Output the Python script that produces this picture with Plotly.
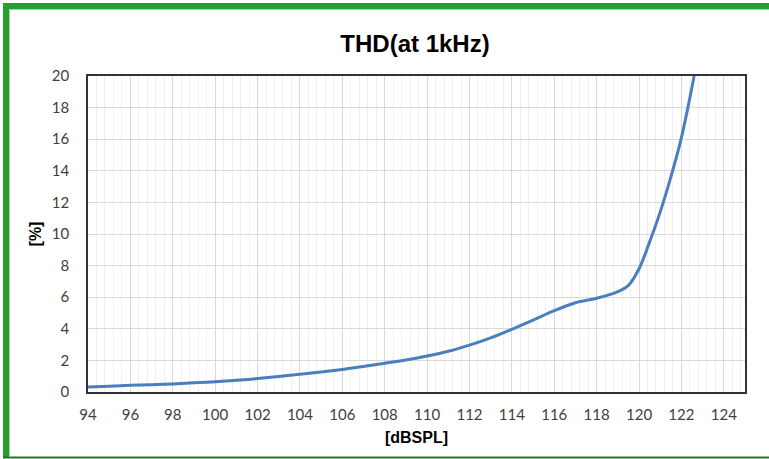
import plotly.graph_objects as go

# THD vs sound pressure level
spl_db = [94, 95, 96, 97, 98, 99, 100, 101, 102, 103, 104, 105, 106, 107, 108,
          109, 110, 111, 112, 113, 114, 115, 116, 117, 118, 119, 119.5, 120,
          120.5, 121, 121.5, 122, 122.6]
thd_pct = [0.32, 0.37, 0.42, 0.46, 0.51, 0.58, 0.65, 0.74, 0.85, 0.98, 1.12,
           1.27, 1.43, 1.61, 1.82, 2.03, 2.28, 2.58, 2.97, 3.43, 3.97, 4.55,
           5.15, 5.65, 5.93, 6.35, 6.75, 7.8, 9.5, 11.4, 13.6, 16.1, 20.0]

W, H = 769, 459
L, R, T, B = 88, 24, 76, 67
PW, PH = W - L - R, H - T - B


def px_x(x):
    # pixel -> paper x
    return (x - L) / PW


def px_y(y):
    # pixel -> paper y
    return 1 - (y - T) / PH


fig = go.Figure()
fig.add_trace(go.Scatter(
    x=spl_db, y=thd_pct,
    mode='lines',
    line=dict(color='#4A7EBF', width=3, shape='spline', smoothing=1),
    hoverinfo='x+y',
    showlegend=False,
))

axis_font = dict(family='Lato, Calibri, sans-serif', size=15, color='#404040')
title_font = dict(family='Liberation Sans, Arial, sans-serif', size=16, color='#000000')

fig.update_layout(
    width=W, height=H,
    margin=dict(l=L, r=R, t=T, b=B),
    paper_bgcolor='white',
    plot_bgcolor='white',
    title=dict(
        text='<b>THD(at 1kHz)</b>',
        x=415 / W, xref='container', xanchor='center',
        y=1 - 44 / H, yref='container', yanchor='middle',
        font=dict(family='Liberation Sans, Arial, sans-serif', size=24, color='#000000'),
    ),
    xaxis=dict(
        range=[94, 125], tick0=94, dtick=2,
        showgrid=True, gridcolor='#D9D9D9', gridwidth=1,
        minor=dict(dtick=0.4, showgrid=True, gridcolor='#EFEFEF', gridwidth=1),
        showline=True, linecolor='#333333', linewidth=1.5, mirror=True,
        ticks='', tickfont=axis_font, ticklabelstandoff=8,
        zeroline=False,
        title=dict(text='<b>[dBSPL]</b>', font=title_font, standoff=10),
    ),
    yaxis=dict(
        range=[0, 20], tick0=0, dtick=2,
        showgrid=True, gridcolor='#D9D9D9', gridwidth=1,
        showline=True, linecolor='#333333', linewidth=1.5, mirror=True,
        ticks='', tickfont=axis_font, ticklabelstandoff=14,
        zeroline=False,
        title=dict(text='<b>[%]</b>', font=title_font, standoff=6),
    ),
)

# green frame around the picture
green = '#22A22C'
fig.add_shape(type='line', xref='paper', yref='paper',
              x0=px_x(6), x1=px_x(6), y0=px_y(3), y1=px_y(458),
              line=dict(color=green, width=6))
fig.add_shape(type='line', xref='paper', yref='paper',
              x0=px_x(3), x1=px_x(780), y0=px_y(6), y1=px_y(6),
              line=dict(color=green, width=6))
fig.add_shape(type='line', xref='paper', yref='paper',
              x0=px_x(3), x1=px_x(780), y0=px_y(457.5), y1=px_y(457.5),
              line=dict(color='#1B7A26', width=2))
# thin grey inner edge
fig.add_shape(type='line', xref='paper', yref='paper',
              x0=px_x(9.5), x1=px_x(9.5), y0=px_y(9.5), y1=px_y(456),
              line=dict(color='#BFBFBF', width=1))
fig.add_shape(type='line', xref='paper', yref='paper',
              x0=px_x(9.5), x1=px_x(780), y0=px_y(9.5), y1=px_y(9.5),
              line=dict(color='#BFBFBF', width=1))

# drop the default page margin so the figure sits at the window origin
fig.write_html("out.html",
               config={'displayModeBar': False},
               post_script="document.body.style.margin='0';document.body.style.overflow='hidden';")
